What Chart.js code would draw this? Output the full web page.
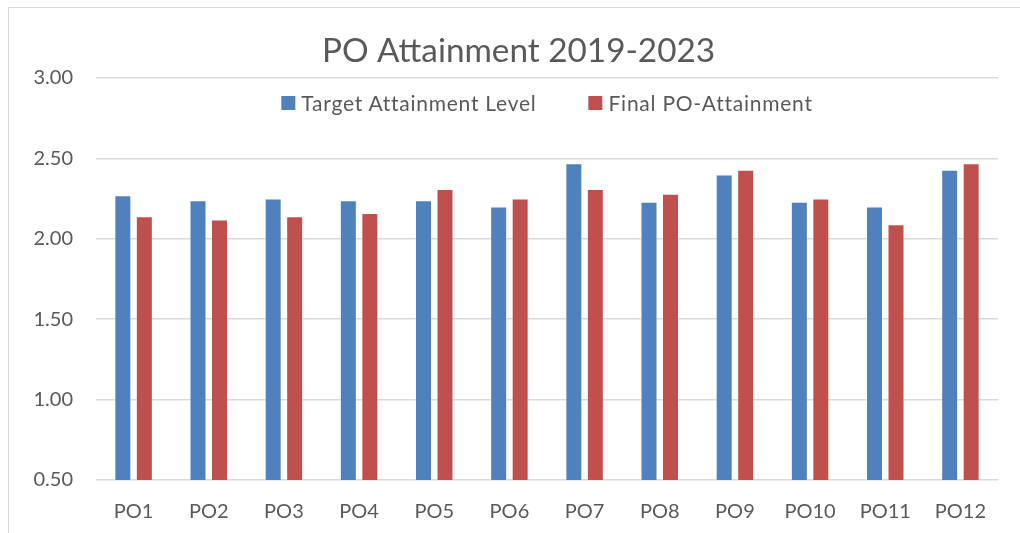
<!DOCTYPE html>
<html lang="en">
<head>
    <meta charset="UTF-8">
    <title>PO Attainment 2019-2023</title>
    <script src="https://cdn.jsdelivr.net/npm/chart.js@4.4.0/dist/chart.umd.min.js"></script>
    <style>
        body {
            margin: 0;
            background: #ffffff;
            font-family: Lato, sans-serif;
            overflow: hidden;
        }
        #wrap {
            position: relative;
            width: 1020px;
            height: 533px;
        }
        #frame {
            position: absolute;
            left: 8px;
            top: 7px;
            width: 1100px;
            height: 600px;
            border: 1px solid #d9d9d9;
        }
        canvas {
            position: absolute;
            left: 0;
            top: 0;
        }
        #legend {
            position: absolute;
            display: flex;
            gap: 52px;
            transform: translateX(-50%);
            white-space: nowrap;
        }
        .item {
            display: flex;
            align-items: center;
            font-size: 21px;
            letter-spacing: 0.75px;
            color: #595959;
            line-height: 24px;
        }
        .box {
            width: 14px;
            height: 14px;
            margin-right: 6px;
        }
    </style>
</head>
<body>
    <div id="wrap">
        <div id="frame"></div>
        <canvas id="poChart" width="1020" height="533"></canvas>
        <div id="legend"></div>
    </div>

    <script>
        const categories = ['PO1', 'PO2', 'PO3', 'PO4', 'PO5', 'PO6', 'PO7', 'PO8', 'PO9', 'PO10', 'PO11', 'PO12'];
        const targetLevel = [2.27, 2.24, 2.25, 2.24, 2.24, 2.20, 2.47, 2.23, 2.40, 2.23, 2.20, 2.43];
        const finalAttainment = [2.14, 2.12, 2.14, 2.16, 2.31, 2.25, 2.31, 2.28, 2.43, 2.25, 2.09, 2.47];
        const yTicks = [0.5, 1.0, 1.5, 2.0, 2.5, 3.0];

        const textColor = '#595959';

        // nudge the title so it sits where the original had it (a bit right of canvas centre)
        const titleShift = {
            id: 'titleShift',
            afterLayout(chart) {
                if (chart.titleBlock) {
                    chart.titleBlock.left += 19.5;
                    chart.titleBlock.right += 19.5;
                }
            }
        };

        const chart = new Chart(document.getElementById('poChart'), {
            type: 'bar',
            data: {
                labels: categories,
                datasets: [{
                    label: 'Target Attainment Level',
                    data: targetLevel,
                    backgroundColor: '#4f81bd',
                    borderColor: 'rgba(255, 255, 255, 0.35)',
                    borderWidth: 1,
                    categoryPercentage: 0.572,
                    barPercentage: 0.79
                }, {
                    label: 'Final PO-Attainment',
                    data: finalAttainment,
                    backgroundColor: '#c0504d',
                    borderColor: 'rgba(255, 255, 255, 0.35)',
                    borderWidth: 1,
                    categoryPercentage: 0.572,
                    barPercentage: 0.79
                }]
            },
            options: {
                responsive: false,
                animation: false,
                layout: {
                    padding: { left: 0, right: 22, top: 0, bottom: 0 }
                },
                plugins: {
                    legend: { display: false },
                    tooltip: { enabled: false },
                    title: {
                        display: true,
                        text: 'PO Attainment 2019-2023',
                        color: textColor,
                        font: { family: 'Lato', size: 33.3, weight: 'normal' },
                        padding: { top: 31.5, bottom: 6.5 }
                    }
                },
                scales: {
                    x: {
                        grid: { display: false, drawTicks: false },
                        border: { display: false },
                        ticks: {
                            color: textColor,
                            font: { family: 'Lato', size: 20 },
                            padding: 20,
                            maxRotation: 0
                        },
                        afterFit: (scale) => { scale.height = 53; }
                    },
                    y: {
                        min: 0.5,
                        max: 3.0,
                        afterBuildTicks: (scale) => {
                            scale.ticks = yTicks.map(v => ({ value: v }));
                        },
                        grid: { color: '#d9d9d9', lineWidth: 1.5, drawTicks: false },
                        border: { display: false },
                        ticks: {
                            color: textColor,
                            font: { family: 'Lato', size: 20 },
                            padding: 23,
                            callback: (value) => Number(value).toFixed(2)
                        },
                        afterFit: (scale) => { scale.width = 96; }
                    }
                }
            },
            plugins: [titleShift]
        });

        // HTML legend built from the chart's datasets
        const legendEl = document.getElementById('legend');
        const area = chart.chartArea;
        legendEl.style.left = ((area.left + area.right) / 2) + 'px';
        legendEl.style.top = (area.top + 13) + 'px';
        chart.data.datasets.forEach(ds => {
            const item = document.createElement('div');
            item.className = 'item';
            const box = document.createElement('span');
            box.className = 'box';
            box.style.background = ds.backgroundColor;
            const label = document.createElement('span');
            label.textContent = ds.label;
            item.appendChild(box);
            item.appendChild(label);
            legendEl.appendChild(item);
        });
    </script>
</body>
</html>
